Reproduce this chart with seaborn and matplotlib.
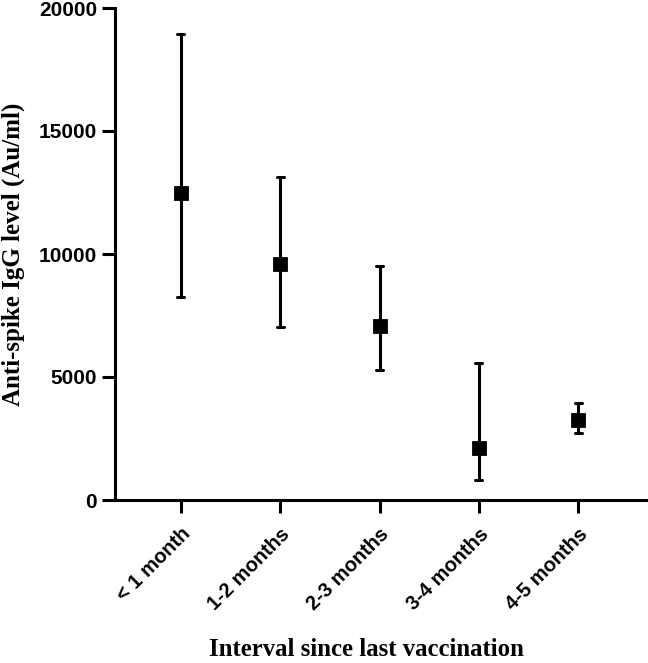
import matplotlib
matplotlib.use("Agg")
import matplotlib.pyplot as plt
import seaborn as sns
import pandas as pd

categories = ["< 1 month", "1-2 months", "2-3 months", "3-4 months", "4-5 months"]
center = [12500, 9600, 7070, 2100, 3270]
lower = [8250, 7030, 5280, 800, 2720]
upper = [18950, 13130, 9500, 5560, 3940]

rows = []
for c, lo, m, up in zip(categories, lower, center, upper):
    for v in (lo, m, up):
        rows.append({"interval": c, "igg": v})
df = pd.DataFrame(rows)

sns.set_style("ticks")
plt.rcParams["font.family"] = ["Liberation Sans", "DejaVu Sans"]
plt.rcParams["text.color"] = "black"
plt.rcParams["axes.labelcolor"] = "black"
plt.rcParams["xtick.color"] = "black"
plt.rcParams["ytick.color"] = "black"

fig = plt.figure(figsize=(6.48, 6.63), dpi=100)
ax = fig.add_axes([115 / 648, 1 - 500 / 663, 1 - 115 / 648, 492 / 663])

sns.pointplot(
    data=df, x="interval", y="igg", order=categories,
    estimator="median", errorbar=lambda x: (x.min(), x.max()),
    linestyle="none", marker="s", markersize=9, color="black",
    capsize=0.07, err_kws={"linewidth": 2.2}, ax=ax,
)

ax.set_ylim(0, 20000)
ax.set_xlim(-0.66, 4.7)
ax.set_yticks([0, 5000, 10000, 15000, 20000])
for s in ["top", "right"]:
    ax.spines[s].set_visible(False)
for s in ["left", "bottom"]:
    ax.spines[s].set_linewidth(2.2)
    ax.spines[s].set_color("black")
ax.tick_params(axis="both", width=2.2, length=9.5, color="black", labelcolor="black")
ax.tick_params(axis="y", pad=3.5)
ax.tick_params(axis="x", pad=8)

for lab in ax.get_yticklabels():
    lab.set_fontweight("bold")
    lab.set_fontsize(15)
ax.set_xticks(range(len(categories)))
ax.set_xticklabels(categories, rotation=45, ha="right", rotation_mode="anchor",
                   fontsize=14.5, fontweight="bold")

ax.set_ylabel("Anti-spike IgG level (Au/ml)", family=["Liberation Serif"],
              fontweight="bold", fontsize=18, color="black")
ax.yaxis.set_label_coords((13 - 115) / 533, 0.5)
ax.yaxis.label.set_va("center")
ax.set_xlabel("Interval since last vaccination", family=["Liberation Serif"],
              fontweight="bold", fontsize=17.8, color="black")
ax.xaxis.set_label_coords((366 - 115) / 533, (500 - 650) / 492)
ax.xaxis.label.set_va("center")

fig.savefig("out.png", dpi=100)
